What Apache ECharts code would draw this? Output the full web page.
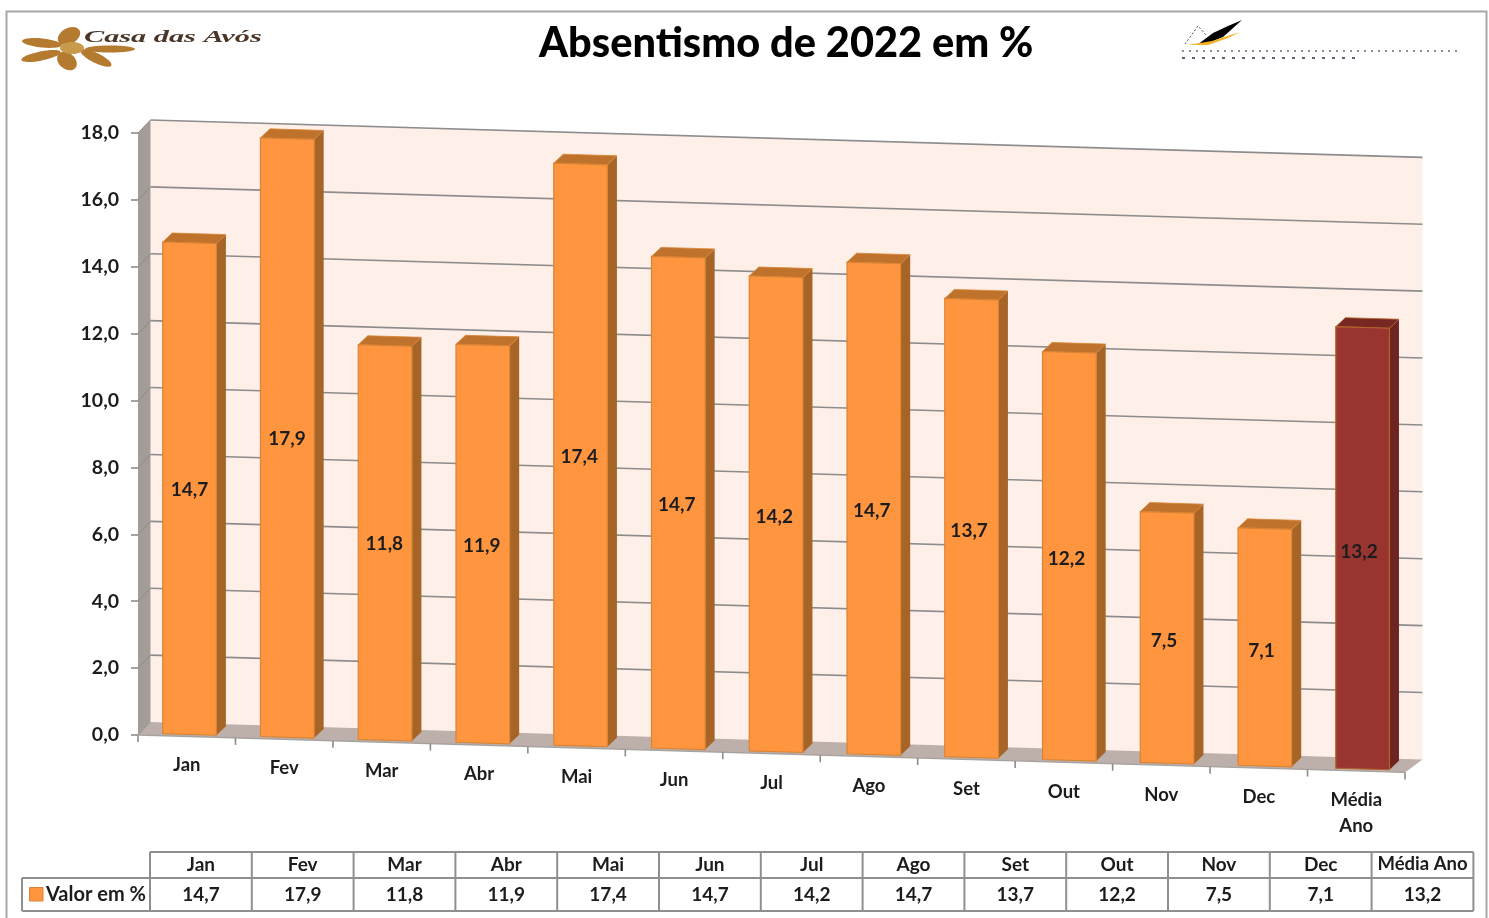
<!DOCTYPE html>
<html>
<head>
<meta charset="utf-8">
<script src="https://cdn.jsdelivr.net/npm/echarts@6/dist/echarts.min.js"></script>
<style>html,body{margin:0;padding:0;background:#fff}#c{width:1489px;height:918px}</style>
</head>
<body>
<div id="c"></div>
<script>
const categories = ['Jan','Fev','Mar','Abr','Mai','Jun','Jul','Ago','Set','Out','Nov','Dec','Média Ano'];
const valores = [14.7,17.9,11.8,11.9,17.4,14.7,14.2,14.7,13.7,12.2,7.5,7.1,13.2];
const yTicks = [0,2,4,6,8,10,12,14,16,18];
const seriesName = 'Valor em %';

const fmt = v => v.toFixed(1).replace('.', ',');
const FONT = 'Lato';
const TXT = '#1c1c1c';

// pseudo-3D projection parameters
const GRID = {left:138, right:84, top:133, bottom:183};
const SKEW = 0.0295;       // the front plane falls to the right
const PERSP = 1.0039;      // the back wall is slightly wider
const PERSP_BAR = 1.003;
const WALL = {dx:12.5, dy:-13};
const BAR = {dx:9.5, dy:-9, inset:2.7, setback:2, width:53.5};
const plane = (p, dx, dy, persp) => {
  const fx = p[0];
  return [GRID.left + (fx - GRID.left) * (persp || PERSP) + dx, p[1] + SKEW * (fx - GRID.left) + dy];
};
const poly = (points, style) => ({type:'polygon', shape:{points}, style});

function renderWalls(params, api) {
  const x0 = api.coord([0, 0])[0] - api.size([1, 0])[0] / 2;
  const x1 = x0 + api.size([1, 0])[0] * categories.length;
  const yB = api.coord([0, yTicks[0]])[1];
  const yT = api.coord([0, yTicks[yTicks.length - 1]])[1];
  const fl = [x0, yB], fr = [x1, yB], tl = [x0, yT], tr = [x1, yT];
  const c = [];
  c.push(poly([plane(tl,WALL.dx,WALL.dy), plane(tr,WALL.dx,WALL.dy), plane(fr,WALL.dx,WALL.dy), plane(fl,WALL.dx,WALL.dy)], {fill:'#FEEFE8'}));
  c.push(poly([[x0, yT], plane(tl,WALL.dx,WALL.dy), plane(fl,WALL.dx,WALL.dy), [x0, yB]], {fill:'#A39C97'}));
  c.push(poly([plane(fl,0,0,1), plane(fl,WALL.dx,WALL.dy), plane(fr,WALL.dx,WALL.dy), plane(fr,0,0,1)], {fill:'#BDB0AB'}));
  return {type:'group', children:c};
}
function renderGridline(params, api) {
  const v = api.value(1);
  const x0 = api.coord([0, 0])[0] - api.size([1, 0])[0] / 2;
  const x1 = x0 + api.size([1, 0])[0] * categories.length;
  const y = api.coord([0, v])[1];
  const a = plane([x0, y], WALL.dx, WALL.dy), b = plane([x1, y], WALL.dx, WALL.dy);
  const lines = [];
  if (v > 0) lines.push({type:'line', shape:{x1:a[0], y1:a[1], x2:b[0], y2:b[1]}, style:{stroke:'#8C8C8C', lineWidth:1.6}});
  lines.push({type:'line', shape:{x1:x0, y1:y, x2:a[0], y2:a[1]}, style:{stroke:v > 0 ? '#8E8884' : '#9A9490', lineWidth:1}});
  return {type:'group', children:lines};
}
function renderXTick(params, api) {
  const bw = api.size([1, 0])[0];
  const x = api.coord([api.value(0), 0])[0] + bw / 2;
  const x0 = api.coord([0, 0])[0] - bw / 2;
  const y = api.coord([0, 0])[1] + SKEW * (x - x0);
  const edge = [];
  if (api.value(0) === 0) {
    edge.push({type:'line', shape:{x1:x0, y1:api.coord([0,0])[1], x2:x0, y2:api.coord([0,0])[1] + 7}, style:{stroke:'#8C8C8C', lineWidth:1.6}});
    const xe = x0 + bw * categories.length;
    edge.push({type:'line', shape:{x1:x0, y1:api.coord([0,0])[1], x2:xe, y2:api.coord([0,0])[1] + SKEW * (xe - x0)}, style:{stroke:'#A8A29E', lineWidth:1.4}});
  }
  edge.push({type:'line', shape:{x1:x, y1:y, x2:x, y2:y + 7}, style:{stroke:'#8C8C8C', lineWidth:1.6}});
  return {type:'group', children:edge};
}
function renderBar(params, api) {
  const i = api.value(0), v = api.value(1);
  const avg = i === categories.length - 1;
  const cx = api.coord([i, 0])[0];
  const yB = api.coord([i, 0])[1];
  const yV = api.coord([i, v])[1];
  const W = BAR.width;
  const pick = (p) => plane(p, BAR.inset, -BAR.setback, PERSP_BAR);
  const leftX = cx - W / 2;
  const fbl = pick([leftX, yB]), fbr = pick([leftX + W, yB]);
  const ftl = pick([leftX, yV]), ftr = pick([leftX + W, yV]);
  const d = p => [p[0] + BAR.dx, p[1] + BAR.dy];
  const edge = avg ? '#B5612A' : '#D98434';
  const front = avg ? '#983530' : '#FF953F';
  const side = avg ? '#6E2420' : '#A66527';
  const top = avg ? '#772822' : '#BF722C';
  const lab = [cx + BAR.inset, (ftl[1] + fbr[1]) / 2 + 1 + i * 0.2];
  return {type:'group', children:[
    poly([ftr, d(ftr), d(fbr), fbr], {fill:side}),
    poly([ftl, d(ftl), d(ftr), ftr], {fill:top, stroke:edge, lineWidth:0.8}),
    poly([ftl, ftr, fbr, fbl], {fill:front, stroke:edge, lineWidth:1.2}),
    {type:'text', style:{x:lab[0], y:lab[1], text:fmt(v), fill:TXT, font:'bold 19px ' + FONT, align:'center', verticalAlign:'middle'}, z2:10}
  ]};
}

// data table underneath
function tableGraphics() {
  const colX = 150, colW = 101.8, y0 = 852, y1 = 878, y2 = 911, legX = 22;
  const n = categories.length, right = colX + colW * n;
  const line = (x1, y1_, x2, y2_) => ({type:'line', shape:{x1, y1:y1_, x2, y2:y2_}, style:{stroke:'#8F8F8F', lineWidth:2}});
  const text = (x, y, t, align, size) => ({type:'text', x, y, style:{text:t, fill:TXT, font:'bold ' + (size || 19) + 'px ' + FONT, align:align || 'center', verticalAlign:'middle'}});
  const g = [line(colX, y0, right, y0), line(legX, y1, right, y1), line(legX, y2, right, y2), line(legX, y1, legX, y2)];
  for (let i = 0; i <= n; i++) g.push(line(colX + colW * i, y0, colX + colW * i, y2));
  categories.forEach((c, i) => {
    g.push(text(colX + colW * (i + .5), 864.5, c, 'center', c.length > 3 ? 18.5 : 19));
    g.push(text(colX + colW * (i + .5), 894.5, fmt(valores[i])));
  });
  g.push({type:'rect', shape:{x:29.5, y:887.5, width:13.5, height:13.5}, style:{fill:'#FF953F', stroke:'#D98434', lineWidth:1}});
  g.push(text(46, 894.5, seriesName, 'left', 20));
  return g;
}
function logoGraphics() {
  const petals = [[42,43,20,4.5,-0.1],[41,56,20,4.5,0.2],[69,36,12,8,0.5],[67,61,11,8,-0.7],[96,58,17,5,-0.45],[110,49,25,3.5,0]];
  const g = petals.map(p => ({type:'ellipse', x:p[0], y:p[1], rotation:p[4], shape:{cx:0, cy:0, rx:p[2], ry:p[3]}, style:{fill:'#B47A30'}}));
  g.push({type:'ellipse', x:72, y:48, shape:{cx:0, cy:0, rx:12, ry:6}, style:{fill:'#C99A4C'}});
  g.push({type:'text', x:84, y:38, scaleX:1.78, style:{text:'Casa das Avós', fill:'#4A3526', font:'italic 600 17px "Liberation Serif"', verticalAlign:'middle'}});
  g.push({type:'polygon', shape:{points:[[1197,45],[1213,33],[1228,26],[1242,20],[1232,29],[1223,37],[1206,44]]}, style:{fill:'#000'}});
  g.push({type:'polygon', shape:{points:[[1188,45],[1212,41],[1240,32],[1228,38],[1208,45]]}, style:{fill:'#F4B223'}});
  g.push({type:'polyline', shape:{points:[[1185,44],[1198,26],[1206,35]]}, style:{stroke:'#555', lineWidth:1, lineDash:[2,2], fill:null}});
  g.push({type:'line', shape:{x1:1182, y1:51, x2:1460, y2:51}, style:{stroke:'#8A909A', lineWidth:2, lineDash:[2,5]}});
  g.push({type:'line', shape:{x1:1182, y1:58, x2:1362, y2:58}, style:{stroke:'#5A6478', lineWidth:2, lineDash:[3,7]}});
  return g;
}

const chart = echarts.init(document.getElementById('c'), null, {renderer:'canvas'});
chart.setOption({
  animation:false,
  backgroundColor:'#fff',
  title:{text:'Absentismo de 2022 em %', left:534, top:18, textStyle:{fontFamily:FONT, fontWeight:900, fontSize:41.5, color:'#000'}},
  grid:{left:GRID.left, right:GRID.right, top:GRID.top, bottom:GRID.bottom, containLabel:false},
  xAxis:{
    type:'category',
    data:categories.map((c, i) => ({value:c, textStyle:{padding:[Math.round(i * 2.95), 0, 0, 0]}})),
    axisLine:{show:false}, axisTick:{show:false}, splitLine:{show:false},
    axisLabel:{interval:0, margin:17, fontFamily:FONT, fontWeight:'bold', fontSize:18.5, lineHeight:26, color:TXT, hideOverlap:false, formatter:s => s.replace(' ', '\n')}
  },
  yAxis:{
    type:'value', min:0, max:18, interval:2,
    axisLine:{show:false},
    axisTick:{show:true, length:7, lineStyle:{color:'#8C8C8C', width:1.6}},
    splitLine:{show:false},
    axisLabel:{margin:19, fontFamily:FONT, fontWeight:'bold', fontSize:19.5, color:TXT, formatter:fmt}
  },
  series:[
    {type:'custom', name:'walls', silent:true, z:1, data:[[0,0]], renderItem:renderWalls},
    {type:'custom', name:'grid', silent:true, z:2, data:yTicks.map(v => [0, v]), encode:{x:0, y:1}, renderItem:renderGridline},
    {type:'custom', name:'ticks', silent:true, z:3, data:categories.map((c, i) => [i, 0]), encode:{x:0, y:1}, renderItem:renderXTick},
    {type:'custom', name:seriesName, z:4, data:valores.map((v, i) => [i, v]), encode:{x:0, y:1}, renderItem:renderBar}
  ],
  graphic:[
    {type:'rect', shape:{x:6.5, y:11.5, width:1480, height:915}, style:{fill:'none', stroke:'#A8A8A8', lineWidth:2}, z:-1, silent:true},
    ...logoGraphics(),
    ...tableGraphics()
  ]
});
</script>
</body>
</html>
